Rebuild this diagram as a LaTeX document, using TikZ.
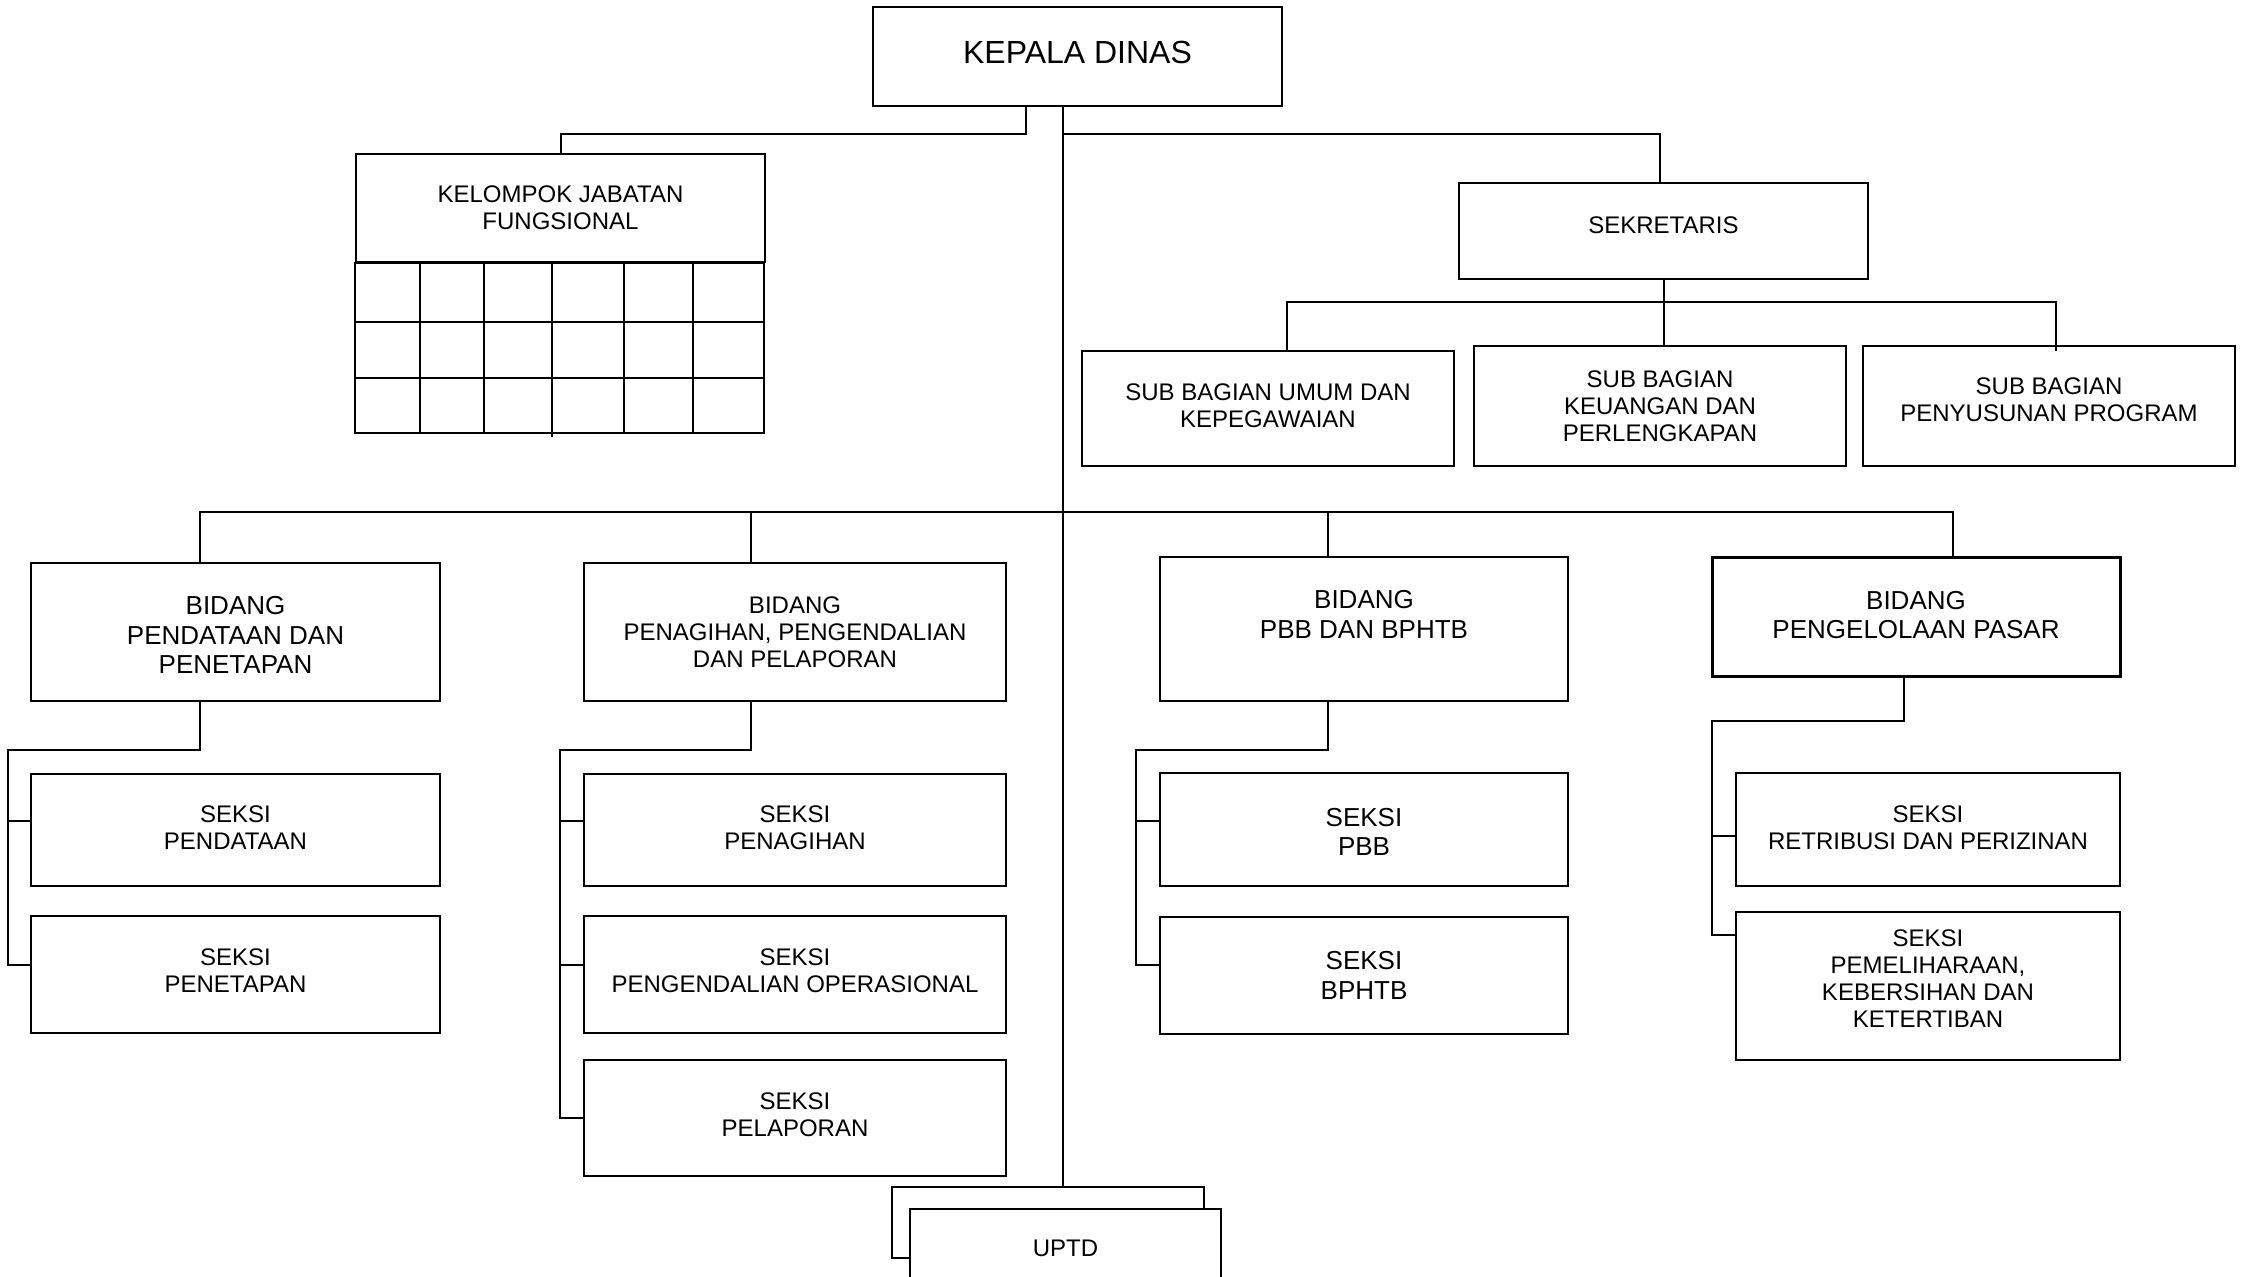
\documentclass[tikz,border=0pt]{standalone}
\usepackage{fontspec}
\setmainfont{Liberation Sans}
% invisible struts: \tdep{d} adds depth to the last line (text moves up by d/2),
% \thgt{h} sets a minimum height for the first line (text moves down)
\newcommand\tdep[1]{\rule[-#1]{0pt}{#1}}
\newcommand\thgt[1]{\rule{0pt}{#1}}
\begin{document}
\begin{tikzpicture}[x=1pt,y=-1pt,
  box/.style={draw,line width=2pt,inner sep=0pt,align=center,fill=white},
  f24/.style={font=\fontsize{24}{27}\selectfont},
  f26/.style={font=\fontsize{26}{29.5}\selectfont},
  f32/.style={font=\fontsize{32}{36}\selectfont},
  conn/.style={line width=2pt}]
\useasboundingbox (0,0) rectangle (2241,1277);
\clip (0,0) rectangle (2241,1277);
% top
\node[box,f32,minimum width=409,minimum height=99] (kd) at (1077.5,56.5) {KEPALA DINAS\tdep{8pt}};
\node[box,f24,minimum width=409,minimum height=108] (kjf) at (560.5,208) {KELOMPOK JABATAN\\FUNGSIONAL};
\node[box,f24,minimum width=409,minimum height=96] (sek) at (1663.5,231) {SEKRETARIS\tdep{12pt}};
\node[box,f24,minimum width=372,minimum height=115] (sbu) at (1268,408.5) {SUB BAGIAN UMUM DAN\\KEPEGAWAIAN\tdep{6pt}};
\node[box,f24,minimum width=372,minimum height=120] (sbk) at (1660,406) {SUB BAGIAN\\KEUANGAN DAN\\PERLENGKAPAN};
\node[box,f24,minimum width=372,minimum height=120] (sbp) at (2049,406) {SUB BAGIAN\\PENYUSUNAN PROGRAM\tdep{12pt}};
% bidang
\node[box,f26,minimum width=409,minimum height=138] (b1) at (235.5,632) {\thgt{24.5pt}BIDANG\\PENDATAAN DAN\\PENETAPAN};
\node[box,f24,minimum width=422,minimum height=138] (b2) at (795,632) {BIDANG\\PENAGIHAN, PENGENDALIAN\\DAN PELAPORAN};
\node[box,f26,minimum width=408,minimum height=144] (b3) at (1364,629) {BIDANG\\PBB DAN BPHTB\\\mbox{}};
\node[box,f26,line width=3pt,minimum width=408,minimum height=119] (b4) at (1916,616.5) {BIDANG\\PENGELOLAAN PASAR\tdep{3pt}};
% seksi
\node[box,f24,minimum width=409,minimum height=112] (s11) at (235.5,830) {SEKSI\\PENDATAAN\tdep{4pt}};
\node[box,f24,minimum width=409,minimum height=117] (s12) at (235.5,974.5) {SEKSI\\PENETAPAN\tdep{8pt}};
\node[box,f24,minimum width=422,minimum height=112] (s21) at (795,830) {SEKSI\\PENAGIHAN\tdep{4pt}};
\node[box,f24,minimum width=422,minimum height=117] (s22) at (795,974.5) {SEKSI\\PENGENDALIAN OPERASIONAL\tdep{8pt}};
\node[box,f24,minimum width=422,minimum height=116] (s23) at (795,1118) {SEKSI\\PELAPORAN\tdep{6pt}};
\node[box,f26,minimum width=408,minimum height=113] (s31) at (1364,829.5) {\thgt{23pt}SEKSI\\PBB};
\node[box,f26,minimum width=408,minimum height=117] (s32) at (1364,975.5) {SEKSI\\BPHTB};
\node[box,f24,minimum width=384,minimum height=113] (s41) at (1928,829.5) {SEKSI\\RETRIBUSI DAN PERIZINAN\tdep{3pt}};
\node[box,f24,minimum width=384,minimum height=148] (s42) at (1928,986) {SEKSI\\PEMELIHARAAN,\\KEBERSIHAN DAN\\KETERTIBAN\tdep{14pt}};
% uptd
\node[box,minimum width=312,minimum height=71] (uptdb) at (1048,1222.5) {};
\node[box,f24,minimum width=311,minimum height=78] (uptd) at (1065.5,1248) {UPTD};
% grid of kelompok jabatan fungsional
\draw[conn] (kjf.south west) rectangle ++(409,170);
\foreach \yy in {322,378} \draw[conn] (356,\yy) -- (765,\yy);
\foreach \xx in {420,484,624,693} \draw[conn] (\xx,262) -- (\xx,432);
\draw[conn] (552,262) -- (552,437);
% connectors top
\draw[conn] ([xshift=-51.5pt]kd.south) -- ++(0,27) -| (kjf.north);
\draw[conn] ([xshift=-14.5pt]kd.south) -- ([xshift=15pt]uptdb.north);
\draw[conn] ([xshift=-14.5pt,yshift=-27pt]kd.south) -| ([xshift=-4pt]sek.north);
\draw[conn] (sek.south) -- (sek.south |- sbk.north);
\draw[conn] ([xshift=19pt]sbu.north) -- ++(0,-48) -| ([xshift=7pt,yshift=-6pt]sbp.north);
% bidang bus
\draw[conn] ([xshift=-35.5pt]b1.north) -- ++(0,-50) -| ([xshift=37pt]b4.north);
\draw[conn] ([xshift=-44pt]b2.north) -- ++(0,-50);
\draw[conn] ([xshift=-36pt]b3.north) -- ++(0,-44);
% seksi connectors
\draw[conn] ([xshift=-35.5pt]b1.south) -- ++(0,48) -- ++(-192,0) |- ([yshift=9.5pt]s12.west);
\draw[conn] ([yshift=9pt]s11.west) -- ++(-23,0);
\draw[conn] ([xshift=-44pt]b2.south) -- ++(0,48) -- ++(-191,0) |- (s23.west);
\draw[conn] ([yshift=9pt]s21.west) -- ++(-24,0);
\draw[conn] ([yshift=9.5pt]s22.west) -- ++(-24,0);
\draw[conn] ([xshift=-36pt]b3.south) -- ++(0,48) -- ++(-192,0) |- ([yshift=10.5pt]s32.west);
\draw[conn] ([yshift=8.5pt]s31.west) -- ++(-24,0);
\draw[conn] ([xshift=-12pt]b4.south) -- ++(0,43) -- ++(-192,0) |- ([yshift=51pt]s42.west);
\draw[conn] ([yshift=-6.5pt]s41.west) -- ++(-24,0);
\end{tikzpicture}
\end{document}
